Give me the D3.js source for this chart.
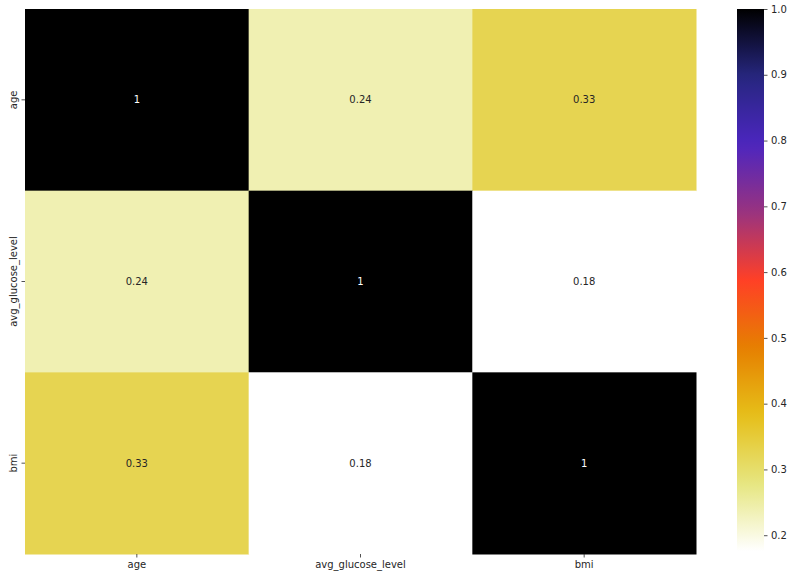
<!DOCTYPE html>
<html>
<head>
<meta charset="utf-8">
<script src="https://cdn.jsdelivr.net/npm/d3@7"></script>
<style>
  body { margin: 0; background: #fff; }
  svg text { font-family: "DejaVu Sans", sans-serif; }
</style>
</head>
<body>
<div id="chart"></div>
<script>
// correlation matrix (age, avg_glucose_level, bmi)
var labels = ['age', 'avg_glucose_level', 'bmi'];
var values = [
    [1, 0.238, 0.326],
    [0.238, 1, 0.176],
    [0.326, 0.176, 1]
];
var barTicks = [0.2, 0.3, 0.4, 0.5, 0.6, 0.7, 0.8, 0.9, 1.0];

var W = 793, H = 579,
    plotLeft = 25, plotTop = 9, plotRight = 696, plotBottom = 554,
    cbLeft = 737, cbWidth = 27, cbTop = 9, cbBottom = 551;

// matplotlib CMRmap stops, used reversed
var cmrStops = [
    [0, 0, 0], [0.15, 0.15, 0.5], [0.3, 0.15, 0.75], [0.6, 0.2, 0.5],
    [1, 0.25, 0.15], [0.9, 0.5, 0], [0.9, 0.75, 0.1], [0.9, 0.9, 0.5], [1, 1, 1]
];
var cmr = d3.scaleLinear()
    .domain(d3.range(cmrStops.length).map(i => i / (cmrStops.length - 1)))
    .range(cmrStops.map(c => d3.rgb(c[0] * 255, c[1] * 255, c[2] * 255)))
    .interpolate(d3.interpolateRgb)
    .clamp(true);

var flat = [].concat.apply([], values);
var vmin = d3.min(flat), vmax = d3.max(flat);
var color = v => cmr(1 - (v - vmin) / (vmax - vmin));

function textColor(v) {
    var c = d3.rgb(color(v));
    var lum = [c.r, c.g, c.b].map(x => {
        x /= 255;
        return x <= 0.03928 ? x / 12.92 : Math.pow((x + 0.055) / 1.055, 2.4);
    });
    var l = 0.2126 * lum[0] + 0.7152 * lum[1] + 0.0722 * lum[2];
    return l > 0.408 ? '#262626' : '#ffffff';
}

var svg = d3.select('#chart').append('svg')
    .attr('width', W)
    .attr('height', H);

var x = d3.scaleBand().domain(labels).range([plotLeft, plotRight]);
var y = d3.scaleBand().domain(labels).range([plotTop, plotBottom]);

var cells = [];
values.forEach((row, i) => row.forEach((v, j) => {
    cells.push({ row: labels[i], col: labels[j], v: v });
}));

svg.append('g').selectAll('rect')
    .data(cells)
    .enter().append('rect')
    .attr('x', d => x(d.col))
    .attr('y', d => y(d.row))
    .attr('width', x.bandwidth() + 0.5)
    .attr('height', y.bandwidth() + 0.5)
    .attr('fill', d => color(d.v));

svg.append('g').selectAll('text')
    .data(cells)
    .enter().append('text')
    .attr('x', d => x(d.col) + x.bandwidth() / 2)
    .attr('y', d => y(d.row) + y.bandwidth() / 2)
    .attr('text-anchor', 'middle')
    .attr('dominant-baseline', 'central')
    .attr('font-size', 10)
    .attr('fill', d => textColor(d.v))
    .text(d => d.v === 1 ? '1' : d3.format('.2f')(d.v));

// axes
function styleAxis(g) {
    g.select('.domain').remove();
    g.selectAll('.tick line').attr('stroke', '#262626').attr('stroke-width', 0.8);
    g.selectAll('.tick text').attr('fill', '#262626').attr('font-size', 10)
        .attr('font-family', '"DejaVu Sans", sans-serif');
}

svg.append('g')
    .attr('transform', `translate(0,${plotBottom})`)
    .call(d3.axisBottom(x).tickSize(3.5).tickPadding(3.5))
    .call(styleAxis);

var yAxis = svg.append('g')
    .attr('transform', `translate(${plotLeft},0)`)
    .call(d3.axisLeft(y).tickSize(3.5).tickPadding(3.5))
    .call(styleAxis);
yAxis.selectAll('.tick text')
    .attr('transform', 'rotate(-90)')
    .attr('x', 0)
    .attr('y', -8)
    .attr('dy', '0em')
    .attr('text-anchor', 'middle');

// colorbar
var cb = d3.scaleLinear().domain([vmin, vmax]).range([cbBottom, cbTop]);
var defs = svg.append('defs');
var grad = defs.append('linearGradient')
    .attr('id', 'cbgrad')
    .attr('x1', 0).attr('y1', 1).attr('x2', 0).attr('y2', 0);
d3.range(0, 1.0001, 0.02).forEach(t => {
    grad.append('stop')
        .attr('offset', t)
        .attr('stop-color', cmr(1 - t));
});
svg.append('rect')
    .attr('x', cbLeft)
    .attr('y', cbTop)
    .attr('width', cbWidth)
    .attr('height', cbBottom - cbTop)
    .attr('fill', 'url(#cbgrad)');

svg.append('g')
    .attr('transform', `translate(${cbLeft + cbWidth},0)`)
    .call(d3.axisRight(cb).tickValues(barTicks).tickFormat(d3.format('.1f'))
        .tickSize(3.5).tickPadding(3.5))
    .call(styleAxis);
</script>
</body>
</html>
